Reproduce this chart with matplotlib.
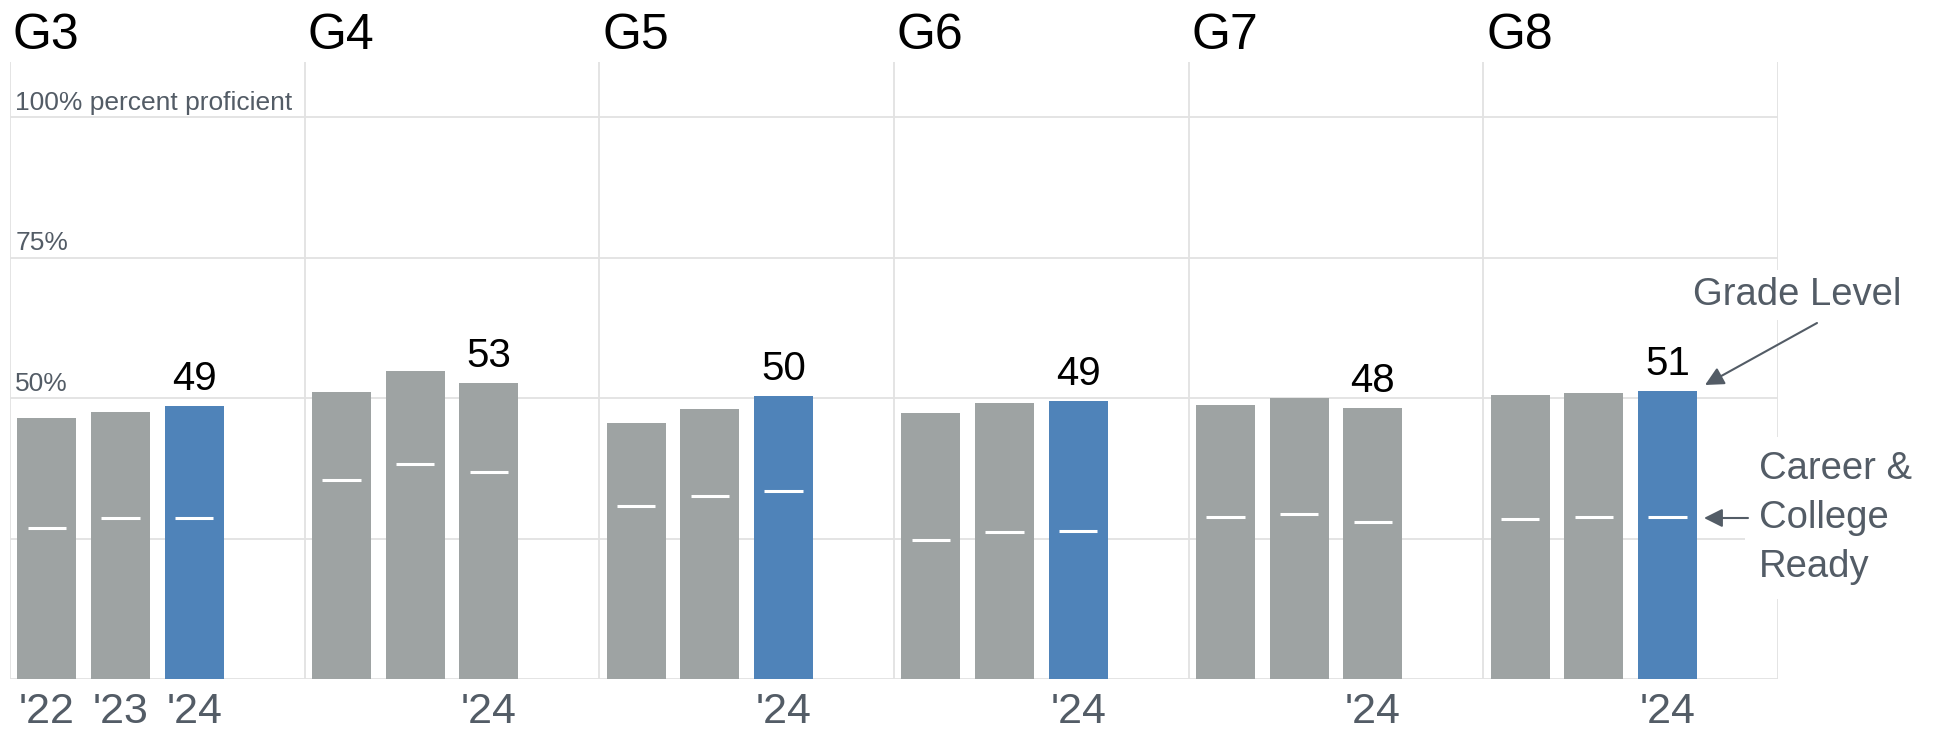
import matplotlib
matplotlib.use("Agg")
import matplotlib.pyplot as plt

plt.rcParams['font.family'] = ['Liberation Sans', 'DejaVu Sans']

# ---- data ----
grades = ['G3', 'G4', 'G5', 'G6', 'G7', 'G8']
years = ["'22", "'23", "'24"]
grade_level = [
    [46.5, 47.6, 48.5],
    [51.1, 54.9, 52.6],
    [45.6, 48.0, 50.3],
    [47.4, 49.2, 49.5],
    [48.8, 50.0, 48.2],
    [50.5, 50.9, 51.2],
]
career_college = [
    [26.9, 28.7, 28.7],
    [35.4, 38.3, 36.9],
    [30.8, 32.5, 33.4],
    [24.7, 26.2, 26.4],
    [28.8, 29.4, 27.9],
    [28.5, 28.8, 28.8],
]
labels_2024 = [49, 53, 50, 49, 48, 51]
highlight_2024 = [True, False, True, True, False, True]
y_ticks = [25, 50, 75, 100]
y_tick_labels = {50: '50%', 75: '75%', 100: '100% percent proficient'}

# ---- style ----
GRAY = '#9ea3a3'
BLUE = '#4f83b9'
GRID = '#e2e2e2'
TXT = '#535c66'

W, H = 1934, 729
fig = plt.figure(figsize=(W / 100, H / 100), dpi=100)
left_px, right_px, top_px, bot_px = 10, 1778, 62, 679
ax = fig.add_axes([left_px / W, (H - bot_px) / H,
                   (right_px - left_px) / W, (bot_px - top_px) / H])
ymax = 109.8
n_g = len(grades)
ax.set_xlim(0, 4 * n_g)
ax.set_ylim(0, ymax)
ax.axis('off')

px_per_unit = (bot_px - top_px) / ymax

# grid
for v in [0] + y_ticks:
    ax.axhline(v, color=GRID, lw=1.3, zorder=0)
for i in range(n_g + 1):
    ax.axvline(4 * i, color=GRID, lw=1.3, zorder=0)

# y labels inside G3
for v, lab in y_tick_labels.items():
    ax.text(0.07, v + 1.3, lab, fontsize=19, color=TXT, va='baseline', ha='left', zorder=3)

bw = 0.8
for gi, g in enumerate(grades):
    base = 4 * gi
    xs = [base + 0.5 + k for k in range(len(years))]
    colors = [GRAY, GRAY, BLUE if highlight_2024[gi] else GRAY]
    ax.bar(xs, grade_level[gi], width=bw, color=colors, zorder=2)
    for x, c in zip(xs, career_college[gi]):
        ax.plot([x - 0.26, x + 0.26], [c, c], color='white', lw=2.2,
                solid_capstyle='butt', zorder=3)
    # value label on 2024
    ax.text(xs[2], grade_level[gi][2] + 16 / px_per_unit, str(labels_2024[gi]),
            fontsize=29, color='black', ha='center', va='baseline', zorder=4)
    # grade title
    ax.text(base + 0.04, (bot_px - 49) / px_per_unit, g, fontsize=36,
            color='black', ha='left', va='baseline', clip_on=False)
    # year labels
    for k, x in enumerate(xs):
        if gi == 0 or k == 2:
            ax.text(x, -(723 - bot_px) / px_per_unit, years[k], fontsize=31,
                    color=TXT, ha='center', va='baseline', clip_on=False)

def dx(px):
    return (px - left_px) / ((right_px - left_px) / (4 * n_g))

def dy(py):
    return (bot_px - py) / px_per_unit

# annotations
ax.text(dx(1693), dy(305), 'Grade Level', fontsize=27.5, color=TXT,
        ha='left', va='baseline', clip_on=False, zorder=5,
        bbox=dict(facecolor='white', edgecolor='none', pad=5))
ax.annotate('', xy=(dx(1705), dy(385)), xytext=(dx(1817), dy(323)),
            arrowprops=dict(arrowstyle='-|>', color=TXT, lw=1.5,
                            mutation_scale=28, shrinkA=0, shrinkB=0),
            annotation_clip=False, zorder=6)

ax.text(dx(1759), dy(577), 'Career &\nCollege\nReady', fontsize=27.5, color=TXT,
        ha='left', va='baseline', linespacing=1.46, clip_on=False, zorder=5,
        bbox=dict(facecolor='white', edgecolor='none', pad=10))
ax.annotate('', xy=(dx(1704), dy(518)), xytext=(dx(1748), dy(518)),
            arrowprops=dict(arrowstyle='-|>', color=TXT, lw=1.5,
                            mutation_scale=28, shrinkA=0, shrinkB=0),
            annotation_clip=False, zorder=6)

fig.savefig('out.png', dpi=100)
